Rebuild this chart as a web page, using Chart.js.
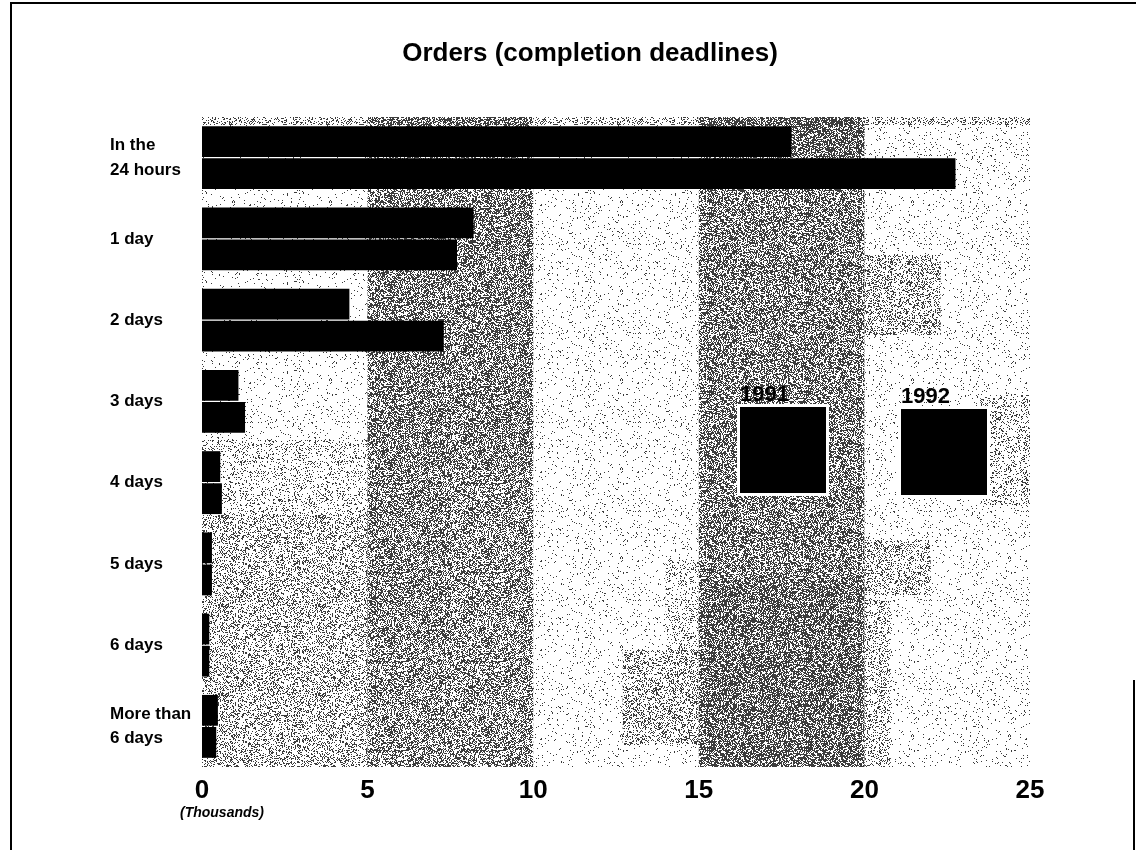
<!DOCTYPE html>
<html>
<head>
<meta charset="utf-8">
<script src="https://cdn.jsdelivr.net/npm/chart.js@4.4.1/dist/chart.umd.min.js"></script>
<style>
  html, body { margin: 0; padding: 0; background: #fff; }
  #wrap { width: 1136px; height: 850px; }
</style>
</head>
<body>
<div id="wrap"><canvas id="orders-chart" width="1136" height="850"></canvas></div>
<script>
// completion deadlines
var categories = [['In the', '24 hours'], '1 day', '2 days', '3 days', '4 days', '5 days', '6 days', ['More than', '6 days']];
var seriesNames = ['1991', '1992'];
// orders, in thousands
var orders1991 = [17.8, 8.2, 4.45, 1.1, 0.55, 0.3, 0.22, 0.48];
var orders1992 = [22.75, 7.7, 7.3, 1.3, 0.6, 0.3, 0.22, 0.43];
var xTicks = [0, 5, 10, 15, 20, 25];
var titleText = 'Orders (completion deadlines)';
var unitText = '(Thousands)';

var FONT = "'Liberation Sans', Arial, Helvetica, sans-serif";

// stippled grey, like the photocopied original
function hash(x, y, s) {
  var h = Math.imul(x, 374761393) + Math.imul(y, 668265263) + Math.imul(s, 2654435761);
  h = Math.imul(h ^ (h >>> 13), 1274126177);
  return ((h ^ (h >>> 16)) >>> 0) / 4294967296;
}
var patternCache = {};
function stipple(ctx, density, seed) {
  var key = density + '_' + seed;
  if (patternCache[key]) return patternCache[key];
  var c = document.createElement('canvas');
  c.width = 97; c.height = 89;
  var g = c.getContext('2d');
  var img = g.createImageData(c.width, c.height);
  for (var y = 0; y < c.height; y++) {
    for (var x = 0; x < c.width; x++) {
      var i = (y * c.width + x) * 4;
      if (hash(x, y, seed) < density) {
        img.data[i] = 60; img.data[i + 1] = 60; img.data[i + 2] = 60; img.data[i + 3] = 255;
      }
    }
  }
  g.putImageData(img, 0, 0);
  patternCache[key] = ctx.createPattern(c, 'repeat');
  return patternCache[key];
}

// [x from, x to (axis units), y from, y to (px), density]
var shading = [
  [0, 25, 117, 767, 0.05],
  [0, 25, 117, 125, 0.22],
  [0, 5, 440, 515, 0.12],
  [0, 5, 515, 767, 0.24],
  [5, 10, 117, 767, 0.45],
  [5, 10, 195, 470, 0.15],
  [5, 7.5, 470, 640, 0.1],
  [15, 20, 117, 767, 0.52],
  [15, 20, 580, 767, 0.2],
  [17.8, 20, 117, 157, 0.2],
  [20, 22.3, 255, 335, 0.26],
  [20, 22, 540, 595, 0.24],
  [20, 20.8, 600, 767, 0.2],
  [23.5, 25, 395, 505, 0.16],
  [12.7, 15, 650, 745, 0.26],
  [14, 15, 560, 650, 0.12]
];

var backdrop = {
  id: 'backdrop',
  beforeDatasetsDraw: function (chart) {
    var ctx = chart.ctx, xs = chart.scales.x;
    ctx.save();
    shading.forEach(function (r, k) {
      var x0 = xs.getPixelForValue(r[0]), x1 = xs.getPixelForValue(r[1]);
      ctx.fillStyle = stipple(ctx, r[4], k + 3);
      ctx.fillRect(x0, r[2], x1 - x0, r[3] - r[2]);
    });
    ctx.restore();
  }
};

var decorations = {
  id: 'decorations',
  afterDraw: function (chart) {
    var ctx = chart.ctx, xs = chart.scales.x;
    ctx.save();
    // frame
    ctx.strokeStyle = '#000';
    ctx.lineWidth = 2;
    ctx.beginPath();
    ctx.moveTo(11, 850); ctx.lineTo(11, 3); ctx.lineTo(1136, 3);
    ctx.stroke();
    ctx.beginPath();
    ctx.moveTo(1134, 680); ctx.lineTo(1134, 850);
    ctx.stroke();

    // title
    ctx.fillStyle = '#000';
    ctx.textAlign = 'center';
    ctx.textBaseline = 'middle';
    ctx.font = 'bold 26px ' + FONT;
    ctx.fillText(titleText, 590, 54);

    // unit under the zero tick
    ctx.font = 'italic bold 14px ' + FONT;
    ctx.textAlign = 'left';
    ctx.fillText(unitText, xs.getPixelForValue(0) - 22, 813);

    // legend
    var boxes = [[740, 407], [901, 409]];
    seriesNames.forEach(function (name, i) {
      var bx = boxes[i][0], by = boxes[i][1];
      ctx.fillStyle = '#fff';
      ctx.fillRect(bx - 3, by - 3, 92, 92);
      ctx.fillStyle = '#000';
      ctx.fillRect(bx, by, 86, 86);
      ctx.font = 'bold 22px ' + FONT;
      ctx.textAlign = 'left';
      ctx.textBaseline = 'alphabetic';
      ctx.fillText(name, bx, by - 6);
    });
    ctx.restore();
  }
};

var canvas = document.getElementById('orders-chart');
var chart = new Chart(canvas.getContext('2d'), {
  type: 'bar',
  data: {
    labels: categories,
    datasets: [{
      label: seriesNames[0],
      data: orders1991,
      backgroundColor: '#000',
      borderWidth: 0,
      barPercentage: 0.96,
      categoryPercentage: 0.79
    }, {
      label: seriesNames[1],
      data: orders1992,
      backgroundColor: '#000',
      borderWidth: 0,
      barPercentage: 0.96,
      categoryPercentage: 0.79
    }]
  },
  options: {
    indexAxis: 'y',
    responsive: false,
    animation: false,
    layout: { padding: { top: 117, left: 110, right: 106, bottom: 43 } },
    plugins: {
      legend: { display: false },
      title: { display: false },
      tooltip: { enabled: false }
    },
    scales: {
      x: {
        min: 0,
        max: 25,
        afterBuildTicks: function (scale) {
          scale.ticks = xTicks.map(function (v) { return { value: v }; });
        },
        afterFit: function (scale) { scale.height = 40; },
        grid: { display: false, drawTicks: false },
        border: { display: false },
        ticks: {
          padding: 8,
          color: '#000',
          maxRotation: 0,
          font: { family: FONT, size: 26, weight: 'bold' }
        }
      },
      y: {
        afterFit: function (scale) { scale.width = 92; },
        grid: { display: false, drawTicks: false },
        border: { display: false },
        ticks: {
          crossAlign: 'far',
          color: '#000',
          font: { family: FONT, size: 17, weight: 'bold', lineHeight: 1.45 }
        }
      }
    }
  },
  plugins: [backdrop, decorations]
});
</script>
</body>
</html>
